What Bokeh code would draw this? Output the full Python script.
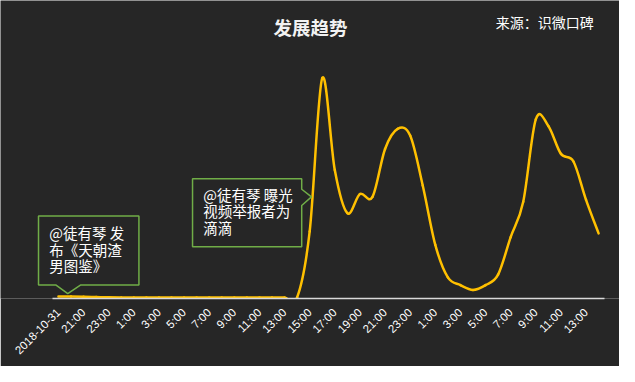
import math
import numpy as np
from bokeh.plotting import figure
from bokeh.models import Range1d, FixedTicker, Label
from bokeh.embed import file_html
from bokeh.resources import INLINE

# ---- data -------------------------------------------------------------
hours = ["2018-10-31", "20:00", "21:00", "22:00", "23:00", "0:00", "1:00", "2:00",
         "3:00", "4:00", "5:00", "6:00", "7:00", "8:00", "9:00", "10:00", "11:00",
         "12:00", "13:00", "14:00", "15:00", "16:00", "17:00", "18:00", "19:00",
         "20:00", "21:00", "22:00", "23:00", "0:00", "1:00", "2:00", "3:00", "4:00",
         "5:00", "6:00", "7:00", "8:00", "9:00", "10:00", "11:00", "12:00", "13:00",
         "14:00"]
volume = [20, 20, 18, 15, 12, 10, 10, 10, 10, 10, 10, 10, 10, 10, 10, 10, 10, 10, 10,
          12, 700, 2300, 1340, 890, 1090, 1060, 1560, 1770, 1700, 1180, 560, 220,
          140, 90, 140, 250, 640, 1010, 1870, 1800, 1510, 1430, 1030, 680]
title_text = "发展趋势"
source_text = "来源：识微口碑"
note1_lines = ["@徒有琴 发", "布《天朝渣", "男图鉴》"]
note2_lines = ["@徒有琴 曝光", "视频举报者为", "滴滴"]

BG = "#262626"
LINE = "#ffc000"
GREEN = "#70ad47"
CJK = "Noto Sans CJK SC"

# layout of the reference (635x382) mapped onto a 619x366 canvas
W, H = 619, 366
REF_W, REF_H = 635, 382
AX_LEFT, AX_RIGHT, AX_Y = 53, 620, 311           # reference pixels
PX = (AX_RIGHT - AX_LEFT) / len(hours)            # reference px per category
SY = H / REF_H


def dx(px):
    return (px - AX_LEFT) / PX - 0.5


def dy(py):
    return (AX_Y - py) * 10


frame_bottom = round(AX_Y * SY)
p = figure(width=W, height=H, output_backend="svg", toolbar_location=None,
           x_range=Range1d(dx(0), dx(REF_W)), y_range=Range1d(0, dy(0)),
           min_border_left=0, min_border_right=0, min_border_top=0,
           min_border_bottom=H - frame_bottom)
p.background_fill_color = BG
p.border_fill_color = BG
p.outline_line_color = None
p.outline_line_alpha = 0
p.xgrid.visible = False
p.ygrid.visible = False
p.yaxis.visible = False

ax = p.xaxis[0]
ax.bounds = (-0.5, len(hours) - 0.5)
ax.ticker = FixedTicker(ticks=list(range(0, len(hours), 2)))
ax.major_label_overrides = {i: hours[i] for i in range(0, len(hours), 2)}
ax.major_label_orientation = math.pi / 4
ax.major_tick_line_color = None
ax.minor_tick_line_color = None
ax.major_tick_out = 0
ax.major_tick_in = 0
ax.major_label_standoff = 12
ax.axis_line_color = "#d9d9d9"
ax.axis_line_width = 1.5
ax.major_label_text_color = "#ffffff"
ax.major_label_text_font = "Liberation Sans"
ax.major_label_text_font_size = "11.5px"

# ---- smoothed line (Catmull-Rom as cubic Bezier segments) -------------
x = np.arange(len(volume), dtype=float)
y = np.array(volume, dtype=float)
xp = np.concatenate([[x[0]], x, [x[-1]]])
yp = np.concatenate([[y[0]], y, [y[-1]]])
n = len(x)
x0, y0 = x[:-1], y[:-1]
x1, y1 = x[1:], y[1:]
cx0 = x0 + (xp[2:n + 1] - xp[0:n - 1]) / 6
cy0 = y0 + (yp[2:n + 1] - yp[0:n - 1]) / 6
cx1 = x1 - (xp[3:n + 2] - xp[1:n]) / 6
cy1 = y1 - (yp[3:n + 2] - yp[1:n]) / 6
p.bezier(x0=x0, y0=y0, x1=x1, y1=y1, cx0=cx0, cy0=cy0, cx1=cx1, cy1=cy1,
         line_color=LINE, line_width=2.5, line_cap="round")

# callout boxes (reference pixel outlines)
box1 = [(39, 225), (142, 225), (142, 297), (82, 297), (69, 306), (57, 297), (39, 297)]
box2 = [(197, 186), (309, 186), (309, 197), (319, 205), (309, 214), (309, 257), (197, 257)]
for box in (box1, box2):
    p.patch([dx(a) for a, b in box], [dy(b) for a, b in box],
            fill_color=BG, line_color=GREEN, line_width=1.5)

for lines, lx, ys in ((note1_lines, 50, (242.5, 259.5, 277)),
                      (note2_lines, 208, (202.5, 219.5, 236.5))):
    for t, ly in zip(lines, ys):
        p.add_layout(Label(x=dx(lx), y=dy(ly), text=t, text_font=CJK,
                           text_font_size="14.5px", text_color="#ffffff",
                           text_baseline="middle", text_align="left"))

p.add_layout(Label(x=dx(318), y=dy(28), text=title_text, text_font=CJK,
                   text_font_size="18.5px", text_font_style="bold",
                   text_color="#f2f2f2", text_align="center",
                   text_baseline="middle"))
p.add_layout(Label(x=dx(508), y=dy(22), text=source_text, text_font=CJK,
                   text_font_size="14px", text_color="#ffffff",
                   text_align="left", text_baseline="middle"))

open("out.html", "w").write(file_html(p, INLINE))
